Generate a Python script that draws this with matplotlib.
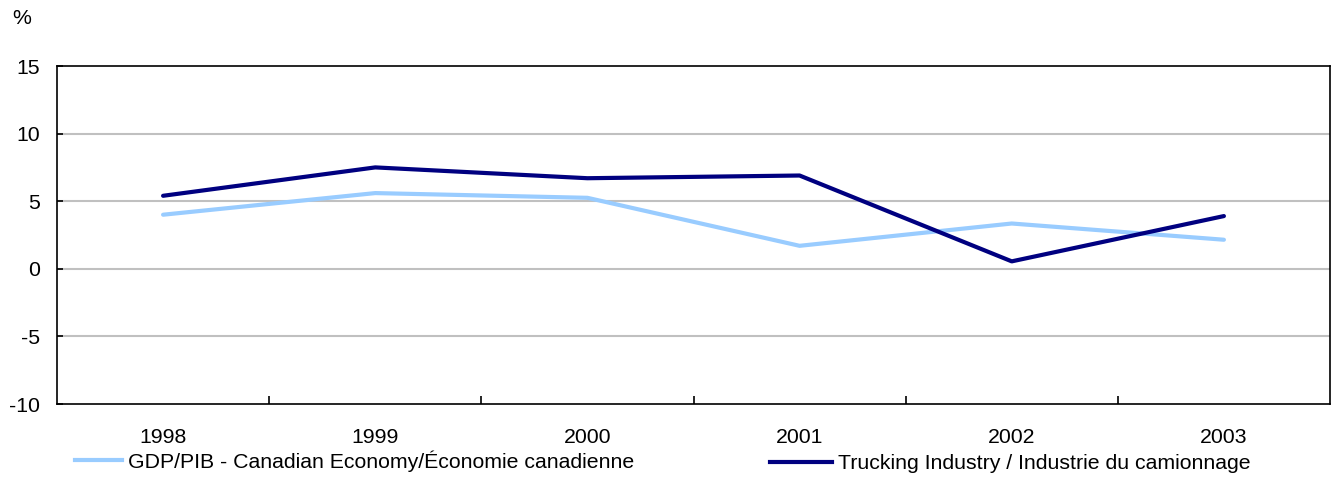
import matplotlib
matplotlib.use('Agg')
import matplotlib.pyplot as plt
from matplotlib.lines import Line2D

years = ['1998', '1999', '2000', '2001', '2002', '2003']
gdp = [4.0, 5.6, 5.25, 1.7, 3.35, 2.15]
trucking = [5.4, 7.5, 6.7, 6.9, 0.55, 3.9]

gdp_label = 'GDP/PIB - Canadian Economy/Économie canadienne'
truck_label = 'Trucking Industry / Industrie du camionnage'

plt.rcParams['font.family'] = ['Liberation Sans', 'DejaVu Sans']
fs = 15.3

fig = plt.figure(figsize=(13.33, 4.95), dpi=100)
ax = fig.add_axes([57/1333, 1-404/495, (1330-57)/1333, (404-66)/495])

x = range(len(years))
ax.plot(x, gdp, color='#99CCFF', lw=3, solid_capstyle='round')
ax.plot(x, trucking, color='#000080', lw=3, solid_capstyle='round')

ax.set_xlim(-0.5, len(years) - 0.5)
ax.set_ylim(-10, 15)
ax.set_yticks([-10, -5, 0, 5, 10, 15])
ax.set_yticklabels(['-10', '-5', '0', '5', '10', '15'], fontsize=fs)
ax.set_xticks(list(x))
ax.set_xticklabels(years, fontsize=fs)
ax.set_xticks([i + 0.5 for i in range(len(years) - 1)], minor=True)
ax.tick_params(axis='x', which='major', length=0, pad=17)
ax.tick_params(axis='x', which='minor', direction='in', length=6, width=1.2)
ax.tick_params(axis='y', direction='in', length=4, width=1.2, pad=12)

for v in [-5, 0, 5, 10]:
    ax.axhline(v, color='#c0c0c0', lw=1.5, zorder=0)
for s in ax.spines.values():
    s.set_linewidth(1.2)
    s.set_color('black')

fig.text(22/1333, 1-19/495, '%', fontsize=fs, ha='center', va='center')

h1 = Line2D([], [], color='#99CCFF', lw=3)
h2 = Line2D([], [], color='#000080', lw=3)
fig.legend([h1], [gdp_label], loc='upper left', bbox_to_anchor=(75/1333, 1 - 450/495),
           frameon=False, fontsize=fs, handlelength=2.2, handletextpad=0.3,
           borderpad=0, borderaxespad=0)
fig.legend([h2], [truck_label], loc='upper left', bbox_to_anchor=(770/1333, 1 - 454/495),
           frameon=False, fontsize=fs, handlelength=2.9, handletextpad=0.3,
           borderpad=0, borderaxespad=0)

fig.savefig('out.png', dpi=100)
